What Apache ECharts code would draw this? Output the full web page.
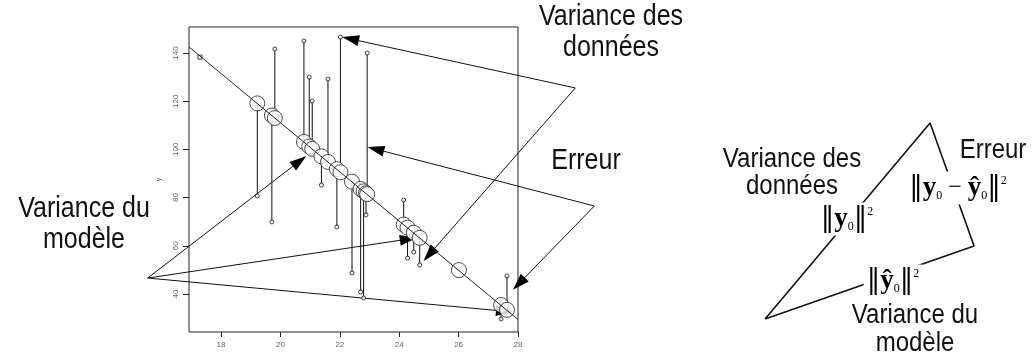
<!DOCTYPE html>
<html>
<head>
<meta charset="utf-8">
<script src="https://cdn.jsdelivr.net/npm/echarts@6/dist/echarts.min.js"></script>
<style>
  html, body { margin: 0; padding: 0; background: #fff; }
  #chart { width: 1034px; height: 358px; }
</style>
</head>
<body>
<div id="chart"></div>
<script>
const xVals = [19.22, 19.71, 19.81, 20.79, 20.97, 21.07, 21.38, 21.60, 21.90, 22.02, 22.41,
               22.70, 22.80, 22.88, 22.92, 24.15, 24.28, 24.49, 24.69, 26.01, 27.43, 27.63];
const yObs  = [80.7, 69.9, 141.7, 145.0, 130.0, 120.1, 85.2, 129.2, 67.8, 146.6, 48.7,
               40.8, 38.3, 72.8, 140.0, 79.0, 54.9, 57.4, 52.0, 50.5, 29.6, 47.5];
const yFit  = [119.1, 114.1, 113.0, 103.1, 101.2, 100.2, 97.1, 94.8, 91.8, 90.5, 86.6,
               83.6, 82.6, 81.8, 81.4, 68.8, 67.5, 65.4, 63.3, 49.9, 35.4, 33.4];
const extraPts = [[17.29, 138.3]];
const regLine = [[16.92, 142.5], [28, 29.4]];
const xTicks = [18, 20, 22, 24, 26, 28];
const yTicks = [40, 60, 80, 100, 120, 140];

// flèches : [x départ, y départ, x pointe, y pointe]
const arrowsDonnees = [[29.93, 125.5, 22.08, 146.6], [29.93, 125.5, 24.82, 53.7]];
const arrowsErreur  = [[30.57, 76.5, 22.93, 101.0], [30.57, 76.5, 27.83, 41.7]];
const arrowsModele  = [[15.53, 46.6, 20.87, 97.3], [15.53, 46.6, 24.59, 63.3], [15.53, 46.6, 27.83, 32.5]];

// schéma de droite (unités arbitraires 0..10)
const triangle = [[0.23, 0.05], [7.73, 9.85], [9.73, 3.7], [0.23, 0.05]];

const INK = '#111';

function renderResidual(params, api) {
  const p0 = api.coord([api.value(0), api.value(1)]);
  const p1 = api.coord([api.value(0), api.value(2)]);
  return {
    type: 'line',
    shape: { x1: p0[0], y1: p0[1], x2: p1[0], y2: p1[1] },
    style: { stroke: INK, lineWidth: 1 }
  };
}

function renderArrow(params, api) {
  const p0 = api.coord([api.value(0), api.value(1)]);
  const p1 = api.coord([api.value(2), api.value(3)]);
  const dx = p1[0] - p0[0], dy = p1[1] - p0[1];
  const len = Math.sqrt(dx * dx + dy * dy);
  const ux = dx / len, uy = dy / len;
  const L = 17, W = 5.5;
  const bx = p1[0] - ux * L, by = p1[1] - uy * L;
  return {
    type: 'group',
    children: [
      { type: 'line', shape: { x1: p0[0], y1: p0[1], x2: bx, y2: by },
        style: { stroke: INK, lineWidth: 1 } },
      { type: 'polygon',
        shape: { points: [[p1[0], p1[1]], [bx - uy * W, by + ux * W], [bx + uy * W, by - ux * W]] },
        style: { fill: '#000' } }
    ]
  };
}

function arrowSeries(data) {
  return {
    type: 'custom', xAxisIndex: 0, yAxisIndex: 0, clip: false, silent: true,
    renderItem: renderArrow, encode: { x: [0, 2], y: [1, 3] }, data: data
  };
}

// texte en blocs, légèrement étiré verticalement comme l'original
function txt(text, cx, baseline, size) {
  const sy = 1.15;
  return {
    type: 'text', x: cx, y: baseline - 0.36 * size * sy, scaleY: sy, z: 100,
    style: { text: text, fontFamily: 'Liberation Sans', fontSize: size, fill: INK,
             align: 'center', verticalAlign: 'middle' }
  };
}

const formRich = {
  n: { fontFamily: 'DejaVu Serif', fontSize: 27, color: INK },
  b: { fontFamily: 'Liberation Serif', fontWeight: 'bold', fontSize: 27, color: INK },
  s: { fontFamily: 'Liberation Serif', fontSize: 12, color: '#666', verticalAlign: 'bottom' },
  p: { fontFamily: 'Liberation Serif', fontSize: 12, color: '#555', verticalAlign: 'top' },
  m: { fontFamily: 'Liberation Serif', fontSize: 24, color: INK }
};

function formula(text, cx, cy) {
  return {
    type: 'text', x: cx, y: cy, z: 100,
    style: { text: text, rich: formRich, align: 'center', verticalAlign: 'middle',
             backgroundColor: '#fff', padding: [3, 3] }
  };
}

const option = {
  animation: false,
  grid: [
    { left: 189, top: 27, width: 329, height: 305, show: true,
      borderColor: '#222', borderWidth: 1, backgroundColor: 'transparent', outerBoundsMode: 'none' },
    { left: 760, top: 120, width: 220, height: 200, show: false, outerBoundsMode: 'none' }
  ],
  xAxis: [
    { type: 'value', gridIndex: 0, min: 16.92, max: 28,
      axisLine: { show: false }, splitLine: { show: false },
      axisTick: { show: true, customValues: xTicks, length: 5, lineStyle: { color: '#222' } },
      axisLabel: { customValues: xTicks, fontSize: 8, color: '#666', margin: 9 } },
    { type: 'value', gridIndex: 1, min: 0, max: 10, show: false }
  ],
  yAxis: [
    { type: 'value', gridIndex: 0, min: 24.2, max: 150.8,
      axisLine: { show: false }, splitLine: { show: false },
      axisTick: { show: true, customValues: yTicks, length: 6, lineStyle: { color: '#222' } },
      axisLabel: { customValues: yTicks, fontSize: 8, color: '#666', rotate: 90, margin: 9 },
      name: 'y', nameLocation: 'middle', nameGap: 26, nameRotate: 90,
      nameTextStyle: { fontSize: 7, color: '#666' } },
    { type: 'value', gridIndex: 1, min: 0, max: 10, show: false }
  ],
  series: [
    { type: 'line', xAxisIndex: 0, yAxisIndex: 0, data: regLine, showSymbol: false,
      silent: true, lineStyle: { color: '#222', width: 1 } },
    { type: 'custom', xAxisIndex: 0, yAxisIndex: 0, silent: true, renderItem: renderResidual,
      encode: { x: 0, y: [1, 2] },
      data: xVals.map((x, i) => [x, yObs[i], yFit[i]]) },
    { type: 'scatter', xAxisIndex: 0, yAxisIndex: 0, silent: true, symbol: 'circle', symbolSize: 4,
      itemStyle: { color: '#fff', borderColor: INK, borderWidth: 1 },
      data: xVals.map((x, i) => [x, yObs[i]]) },
    { type: 'scatter', xAxisIndex: 0, yAxisIndex: 0, silent: true, symbol: 'rect', symbolSize: 4,
      itemStyle: { color: '#fff', borderColor: INK, borderWidth: 1 }, data: extraPts },
    { type: 'scatter', xAxisIndex: 0, yAxisIndex: 0, silent: true, symbol: 'circle', symbolSize: 15,
      itemStyle: { color: '#fff', borderColor: '#222', borderWidth: 1 },
      data: xVals.map((x, i) => [x, yFit[i]]) },
    arrowSeries(arrowsDonnees),
    arrowSeries(arrowsErreur),
    arrowSeries(arrowsModele),
    { type: 'line', xAxisIndex: 1, yAxisIndex: 1, data: triangle, showSymbol: false, clip: false,
      silent: true, lineStyle: { color: INK, width: 1.6 } }
  ],
  graphic: [
    txt('Variance des', 611, 27, 25),
    txt('données', 611, 58, 25),
    txt('Erreur', 586, 171, 25),
    txt('Variance du', 84, 219, 25),
    txt('modèle', 84, 250, 25),
    txt('Variance des', 792, 169, 24),
    txt('données', 792, 196, 24),
    txt('Erreur', 993, 160, 24),
    txt('Variance du', 915, 325, 24),
    txt('modèle', 915, 353, 24),
    formula('{n|‖}{b|y}{s|0}{n|‖}{p|2}', 847, 219),
    formula('{n|‖}{b|y}{s|0}{m| − }{b|ŷ}{s|0}{n|‖}{p|2}', 958, 188),
    formula('{n|‖}{b|ŷ}{s|0}{n|‖}{p|2}', 893, 281)
  ]
};

const myChart = echarts.init(document.getElementById('chart'));
myChart.setOption(option);
</script>
</body>
</html>
